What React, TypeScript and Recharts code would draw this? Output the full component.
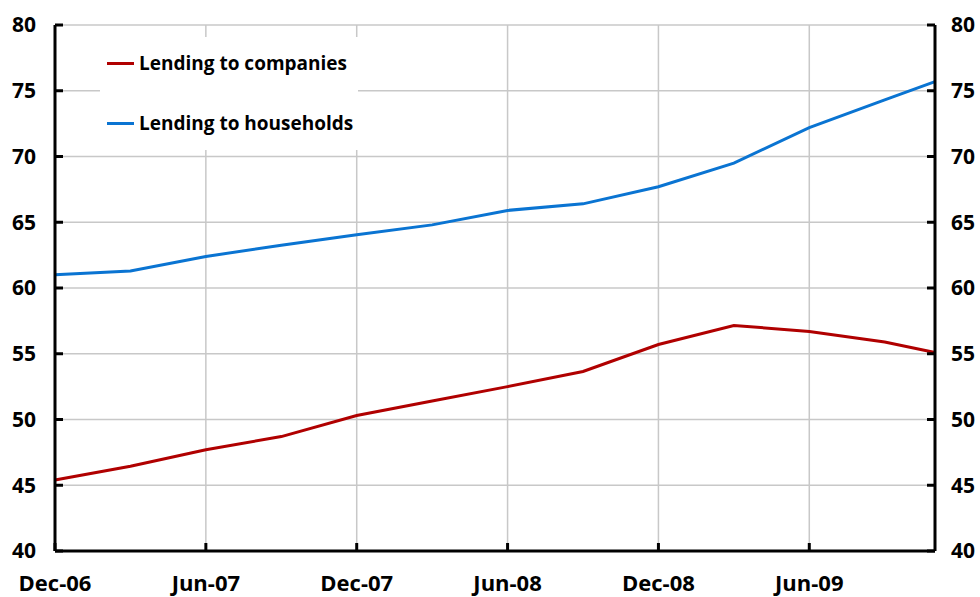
import React from 'react';
import { LineChart, Line, XAxis, YAxis, CartesianGrid } from 'recharts';

// months since Dec-06 (quarterly, last obs Nov-09)
const monthIdx = [0, 3, 6, 9, 12, 15, 18, 21, 24, 27, 30, 33, 35];
const companies = [45.4, 46.45, 47.7, 48.7, 50.3, 51.4, 52.5, 53.65, 55.7, 57.15, 56.7, 55.9, 55.1];
const households = [61.0, 61.3, 62.4, 63.25, 64.05, 64.8, 65.9, 66.4, 67.7, 69.5, 72.2, 74.3, 75.7];

const xTicks = [0, 6, 12, 18, 24, 30];
const xTickLabels = ['Dec-06', 'Jun-07', 'Dec-07', 'Jun-08', 'Dec-08', 'Jun-09'];
const yTicks = [40, 45, 50, 55, 60, 65, 70, 75, 80];

const seriesNames = ['Lending to companies', 'Lending to households'];
const seriesColors = ['#b00000', '#0a74d2'];

const data = monthIdx.map((m, i) => ({
  m,
  companies: companies[i],
  households: households[i],
}));

const font = "'Open Sans', sans-serif";
const TICK_IN = 8; // inward tick length
const X_MARGIN = 24;
const L_MARGIN = 19;
const R_MARGIN = 16;

// ticks drawn by hand so the marks point into the plot
const BottomTick = (p: any) => {
  const { x, y, payload } = p;
  const axisY = y - X_MARGIN;
  return (
    <g>
      <line x1={x} x2={x} y1={axisY} y2={axisY - TICK_IN} stroke="#000" strokeWidth={3} />
      <text x={x} y={y} dy="0.71em" textAnchor="middle" fontFamily={font} fontWeight={700} fontSize={22} fill="#000">
        {xTickLabels[xTicks.indexOf(payload.value)] ?? ''}
      </text>
    </g>
  );
};

const LeftTick = (p: any) => {
  const { x, y, payload } = p;
  const axisX = x + L_MARGIN;
  return (
    <g>
      <line x1={axisX} x2={axisX + TICK_IN} y1={y} y2={y} stroke="#000" strokeWidth={3} />
      <text x={x} y={y} dy="0.355em" textAnchor="end" fontFamily={font} fontWeight={700} fontSize={21} fill="#000">
        {payload.value}
      </text>
    </g>
  );
};

const RightTick = (p: any) => {
  const { x, y, payload } = p;
  const axisX = x - R_MARGIN;
  return (
    <g>
      <line x1={axisX} x2={axisX - TICK_IN} y1={y} y2={y} stroke="#000" strokeWidth={3} />
      <text x={x} y={y} dy="0.355em" textAnchor="start" fontFamily={font} fontWeight={700} fontSize={21} fill="#000">
        {payload.value}
      </text>
    </g>
  );
};

// legend drawn as an overlay so it doesn't steal plot space
const LegendBox = () => (
  <div
    style={{
      position: 'absolute',
      left: 100,
      top: 37,
      background: '#fff',
      width: 258,
      height: 113,
      boxSizing: 'border-box',
      paddingTop: 11,
      paddingLeft: 7,
      fontFamily: font,
      fontWeight: 700,
      fontSize: 19,
    }}
  >
    {seriesNames.map((name, i) => (
      <div key={name} style={{ display: 'flex', alignItems: 'center', height: 30, marginBottom: i === 0 ? 30 : 0 }}>
        <span style={{ display: 'inline-block', width: 27, height: 3, background: seriesColors[i], marginRight: 5 }} />
        <span>{name}</span>
      </div>
    ))}
  </div>
);

export default function App() {
  return (
    <div style={{ position: 'absolute', left: 0, top: 0, width: 980, height: 597, background: '#fff' }}>
      <LineChart width={980} height={597} data={data} margin={{ top: 25, right: 0, left: 0, bottom: 0 }}>
        <CartesianGrid stroke="#c8c8c8" strokeWidth={1.5} yAxisId="left" />
        <XAxis
          dataKey="m"
          type="number"
          domain={[0, 35]}
          ticks={xTicks}
          interval={0}
          height={46}
          axisLine={{ stroke: '#000', strokeWidth: 3 }}
          tickLine={false}
          tickSize={0}
          tickMargin={X_MARGIN}
          tick={BottomTick}
        />
        <YAxis
          yAxisId="left"
          orientation="left"
          domain={[40, 80]}
          ticks={yTicks}
          interval={0}
          width={55}
          axisLine={{ stroke: '#000', strokeWidth: 3 }}
          tickLine={false}
          tickSize={0}
          tickMargin={L_MARGIN}
          tick={LeftTick}
        />
        <YAxis
          yAxisId="right"
          orientation="right"
          domain={[40, 80]}
          allowDataOverflow
          ticks={yTicks}
          interval={0}
          width={45}
          axisLine={{ stroke: '#000', strokeWidth: 3 }}
          tickLine={false}
          tickSize={0}
          tickMargin={R_MARGIN}
          tick={RightTick}
        />
        <Line
          yAxisId="left"
          dataKey="companies"
          name={seriesNames[0]}
          stroke={seriesColors[0]}
          strokeWidth={3}
          dot={false}
          isAnimationActive={false}
        />
        <Line
          yAxisId="left"
          dataKey="households"
          name={seriesNames[1]}
          stroke={seriesColors[1]}
          strokeWidth={3}
          dot={false}
          isAnimationActive={false}
        />
      </LineChart>
      <LegendBox />
    </div>
  );
}
